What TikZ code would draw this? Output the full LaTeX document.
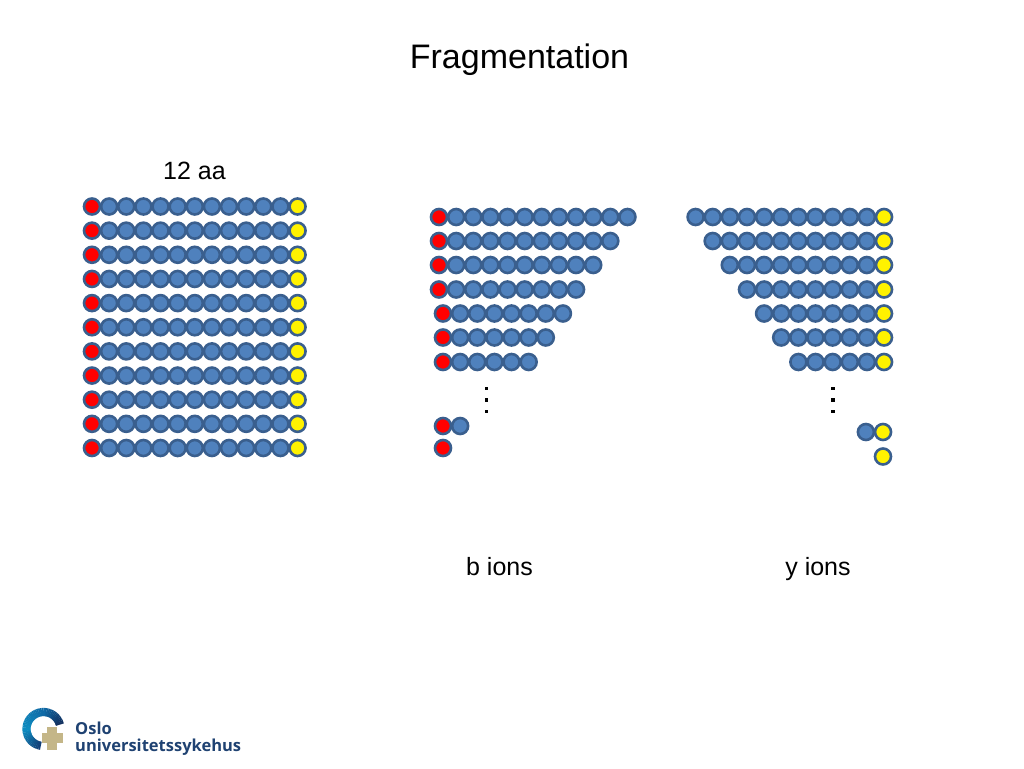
\documentclass[tikz,border=0pt]{standalone}
\usepackage{fontspec}
\setmainfont{Liberation Sans}
\newfontfamily\logofont{Open Sans}
\definecolor{bluefill}{HTML}{4F81BD}
\definecolor{ringline}{HTML}{3A5F8E}
\definecolor{logonavy}{HTML}{1F4272}
\definecolor{logogold}{HTML}{C4B688}
\definecolor{arcA}{HTML}{12305F}
\definecolor{arcB}{HTML}{0F6AA6}
\definecolor{arcC}{HTML}{0E8CC0}
\definecolor{arcD}{HTML}{123F78}
\tikzset{
  residue/.style={circle,draw=ringline,line width=2.6pt,minimum size=16pt,inner sep=0pt,fill=bluefill},
  nterm/.style={residue,fill=red},
  cterm/.style={residue,fill=yellow},
  label24/.style={anchor=base,inner sep=0pt,font=\fontsize{25}{28}\selectfont},
  dotmark/.style={rectangle,fill=black,minimum size=3.2pt,inner sep=0pt},
  logotext/.style={anchor=base west,inner sep=0pt,text=logonavy,font=\logofont\fontsize{16.5}{20}\selectfont\bfseries},
}
% #1 name prefix, #2 x of first circle, #3 y, #4 number of circles, #5 red start?, #6 yellow end?
\newcommand{\pepchain}[6]{%
  \foreach \i in {1,...,#4}{%
    \pgfmathsetmacro{\px}{#2+(\i-1)*17.13}%
    \def\st{residue}%
    \ifnum\i=1 \ifnum#5=1 \def\st{nterm}\fi\fi
    \ifnum\i=#4 \ifnum#6=1 \def\st{cterm}\fi\fi
    \node[\st] (#1-\i) at (\px,#3) {};
  }%
}
\begin{document}
\begin{tikzpicture}[x=1pt,y=-1pt]
\useasboundingbox (0,0) rectangle (1024,768);
\fill[white] (0,0) rectangle (1024,768);
\node[anchor=base,inner sep=0pt,font=\fontsize{34}{36}\selectfont] (title) at (519.5,68) {Fragmentation};
\node[label24] (aa) at (194.5,179.5) {12 aa};
\node[label24] (bions) at (499.5,575.5) {b ions};
\node[label24] (yions) at (818,575.5) {y ions};
% full peptides
\foreach \r [evaluate=\r as \ry using {206.5+(\r-1)*24.15}] in {1,...,11}{
  \pepchain{full\r}{92}{\ry}{13}{1}{1}
}
% b ions
\pepchain{ba}{439}{217}{12}{1}{0}
\pepchain{bb}{439}{241}{11}{1}{0}
\pepchain{bc}{439}{265}{10}{1}{0}
\pepchain{bd}{439}{289.5}{9}{1}{0}
\pepchain{be}{443}{313.5}{8}{1}{0}
\pepchain{bf}{443}{337.5}{7}{1}{0}
\pepchain{bg}{443}{362}{6}{1}{0}
\pepchain{bh}{443}{426}{2}{1}{0}
\pepchain{bi}{443}{448}{1}{1}{0}
% y ions
\pepchain{ya}{695.6}{217}{12}{0}{1}
\pepchain{yb}{712.7}{241}{11}{0}{1}
\pepchain{yc}{729.8}{265}{10}{0}{1}
\pepchain{yd}{747}{289.5}{9}{0}{1}
\pepchain{ye}{764.1}{313.5}{8}{0}{1}
\pepchain{yf}{781.2}{337.5}{7}{0}{1}
\pepchain{yg}{798.4}{362}{6}{0}{1}
\pepchain{yh}{865.9}{432}{2}{0}{1}
\pepchain{yi}{883}{456.5}{1}{0}{1}
% ellipses
\foreach \n/\dy in {1/388.7,2/400,3/411.5}{
  \node[dotmark] (bdot\n) at (486.7,\dy) {};
  \node[dotmark] (ydot\n) at (833,\dy) {};
}
% logo ring
\begin{scope}[shift={(43.5,729)},y=1pt]
\foreach \a in {15,20,...,85}{
  \pgfmathtruncatemacro{\p}{(\a-15)/70*100}
  \draw[line width=8.2pt,color=arcB!\p!arcA] (\a:17) arc[start angle=\a,end angle=\a+6,radius=17];
}
\foreach \a in {90,95,...,175}{
  \pgfmathtruncatemacro{\p}{(\a-90)/85*100}
  \draw[line width=8.2pt,color=arcC!\p!arcB] (\a:17) arc[start angle=\a,end angle=\a+6,radius=17];
}
\foreach \a in {180,185,...,255}{
  \pgfmathtruncatemacro{\p}{(\a-180)/75*100}
  \draw[line width=8.2pt,color=arcD!\p!arcC] (\a:17) arc[start angle=\a,end angle=\a+6,radius=17];
}
\end{scope}
% logo cross
\fill[logogold] (42,733) rectangle (63,743);
\fill[logogold] (47,727) rectangle (57,750);
\node[logotext] (oslo) at (75,734) {Oslo};
\node[logotext] (oushosp) at (75,751) {universitetssykehus};
\end{tikzpicture}
\end{document}
